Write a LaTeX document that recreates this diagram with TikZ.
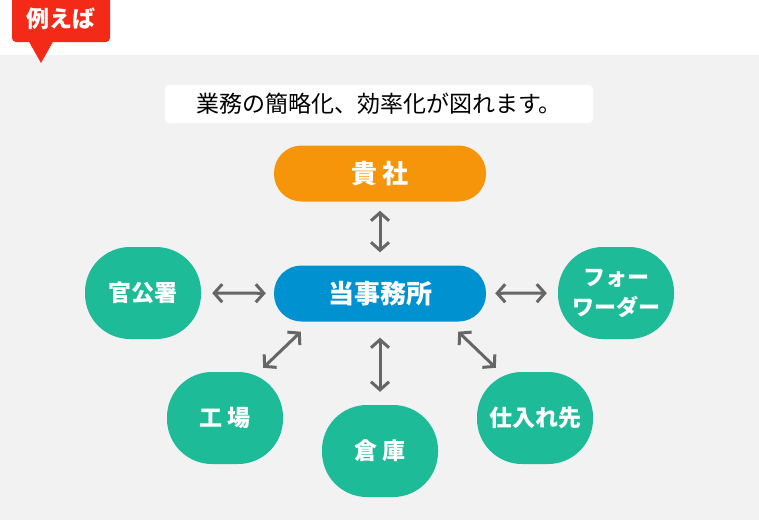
\documentclass[tikz,border=0pt]{standalone}
\usepackage{fontspec}
\newfontfamily\jp{Noto Sans CJK JP}
\usepackage{tikz}
\usetikzlibrary{calc}
\usetikzlibrary{arrows.meta}

\definecolor{tagred}{HTML}{F42A18}
\definecolor{bggray}{HTML}{F2F2F2}
\definecolor{orangebox}{HTML}{F7950A}
\definecolor{bluebox}{HTML}{0092D0}
\definecolor{greenbox}{HTML}{1DBB98}
\definecolor{arrowgray}{HTML}{666666}

\tikzset{
  pill/.style={rounded corners=27.5pt, minimum width=212pt, minimum height=56pt,
    text=white, inner sep=0pt, font=\jp\bfseries\fontsize{26}{28}\selectfont},
  blob/.style={rounded corners=45pt, minimum width=116pt, minimum height=92pt,
    fill=greenbox, text=white, align=center, inner sep=0pt,
    font=\jp\bfseries\fontsize{23}{30}\selectfont},
  link/.style={draw=arrowgray, line width=3pt,
    {Straight Barb[length=8pt,width=18pt]}-{Straight Barb[length=8pt,width=18pt]}},
}

\begin{document}
\begin{tikzpicture}[x=1pt,y=-1pt]
\useasboundingbox (0,0) rectangle (759,520);
% Background
\fill[white] (0,0) rectangle (759,520);
\fill[bggray] (0,55) rectangle (759,520);

% Tag
\fill[tagred, rounded corners=4pt] (12,-6) rectangle (110,42);
\fill[tagred] (28,40) -- (54,40) -- (41,63) -- cycle;
\node[text=white, font=\jp\bfseries\fontsize{23}{24}\selectfont] (tag) at (61,19) {例えば};

% Lead text
\node[fill=white, rounded corners=4pt, minimum width=428pt, minimum height=38pt,
  inner sep=0pt, font=\jp\fontsize{23}{24}\selectfont] (lead) at (379,104)
  {業務の簡略化、効率化が図れます。};

% Main nodes
\node[pill, fill=orangebox] (company) at (380,173.5) {貴\kern6pt社};
\node[pill, fill=bluebox] (office) at (380,293.5) {当事務所};

% Partners
\node[blob] (gov) at (143,293) {官公署};
\node[blob, font=\jp\bfseries\fontsize{22}{30}\selectfont] (forwarder) at (616,293) {フォー\\ワーダー};
\node[blob] (factory) at (225,418) {工\kern5pt場};
\node[blob] (warehouse) at (380,451) {倉\kern5pt庫};
\node[blob] (supplier) at (535,418) {仕入れ先};

% Arrows
\draw[link, shorten <=9pt, shorten >=13pt] (company) -- (office);
\draw[link, shorten <=11pt, shorten >=8pt] (gov) -- (office);
\draw[link, shorten <=9pt, shorten >=11pt] (office) -- (forwarder);
\draw[link, shorten <=16pt, shorten >=13pt] (office) -- (warehouse);
\draw[link] ($(office.south west)+(27,10)$) -- ($(factory.north east)+(-20,-4)$);
\draw[link] ($(office.south east)+(-28,10)$) -- ($(supplier.north west)+(19,-4)$);
\end{tikzpicture}
\end{document}
